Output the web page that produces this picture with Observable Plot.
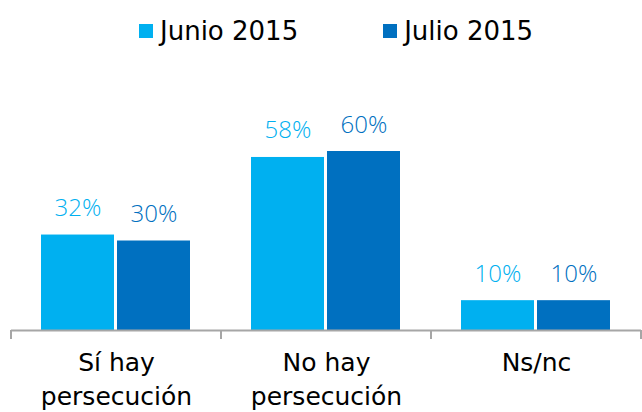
<!DOCTYPE html>
<html>
<head>
<meta charset="utf-8">
<script src="https://cdn.jsdelivr.net/npm/d3@7"></script>
<script src="https://cdn.jsdelivr.net/npm/@observablehq/plot@0.6"></script>
<style>
  html, body { margin: 0; padding: 0; background: #fff; }
  #wrap { width: 642px; height: 412px; overflow: hidden; position: relative; }
  #legend { height: 50px; box-sizing: border-box; padding-top: 11px; padding-left: 139px;
            display: flex; align-items: center; font-family: "DejaVu Sans", sans-serif; font-size: 26px; color: #000; }
  #legend .item { display: flex; align-items: center; line-height: 30px; height: 30px; }
  #legend .item + .item { margin-left: 85px; }
  #legend .sw { width: 14px; height: 14px; margin-right: 7px; display: inline-block; }
  svg { display: block; }
</style>
</head>
<body>
<div id="wrap">
  <div id="legend"></div>
  <div id="chart"></div>
</div>
<script>
const categories = ["Sí hay\npersecución", "No hay\npersecución", "Ns/nc"];
const series = ["Junio 2015", "Julio 2015"];
const junio = [32, 58, 10];
const julio = [30, 60, 10];
const colors = ["#00B0F0", "#0070C0"];

const data = [];
categories.forEach((c, i) => {
  data.push({category: c, series: series[0], value: junio[i]});
  data.push({category: c, series: series[1], value: julio[i]});
});

// legend
const legend = document.getElementById("legend");
series.forEach((s, i) => {
  const item = document.createElement("div");
  item.className = "item";
  const sw = document.createElement("span");
  sw.className = "sw";
  sw.style.background = colors[i];
  const t = document.createElement("span");
  t.textContent = s;
  item.appendChild(sw);
  item.appendChild(t);
  legend.appendChild(item);
});

const chart = Plot.plot({
  width: 642,
  height: 362,
  marginLeft: 10,
  marginRight: 1,
  marginTop: 101,
  marginBottom: 82,
  style: {fontFamily: "DejaVu Sans", background: "white", overflow: "visible"},
  fx: {domain: categories, padding: 0, label: null, axis: null},
  x: {domain: series, paddingInner: 0.035, paddingOuter: 0.389, axis: null},
  y: {domain: [0, 60], axis: null},
  color: {domain: series, range: colors},
  marks: [
    Plot.barY(data, {fx: "category", x: "series", y: "value", fill: "series"}),
    Plot.text(data, {fx: "category", x: "series", y: "value", text: d => d.value + "%",
      fill: "series", lineAnchor: "bottom", dy: -19, fontSize: 24,
      fontFamily: "Open Sans", fontWeight: 300}),
    Plot.ruleY([0], {stroke: "#A6A6A6", strokeWidth: 2}),
    Plot.axisFx({anchor: "bottom", tickSize: 0, tickPadding: 17, fontSize: 25,
      lineHeight: 1.34, label: null, fill: "#000", lineAnchor: "top"})
  ]
});
document.getElementById("chart").appendChild(chart);

// boundary tick marks on the category axis
const fx = chart.scale("fx");
const y = chart.scale("y");
const y0 = y.apply(0);
const bounds = categories.map(c => fx.apply(c)).concat([fx.apply(categories[categories.length - 1]) + fx.bandwidth]);
d3.select(chart).append("g")
  .attr("stroke", "#A6A6A6").attr("stroke-width", 2)
  .selectAll("line").data(bounds).join("line")
  .attr("x1", d => d).attr("x2", d => d)
  .attr("y1", y0).attr("y2", y0 + 9);
</script>
</body>
</html>
